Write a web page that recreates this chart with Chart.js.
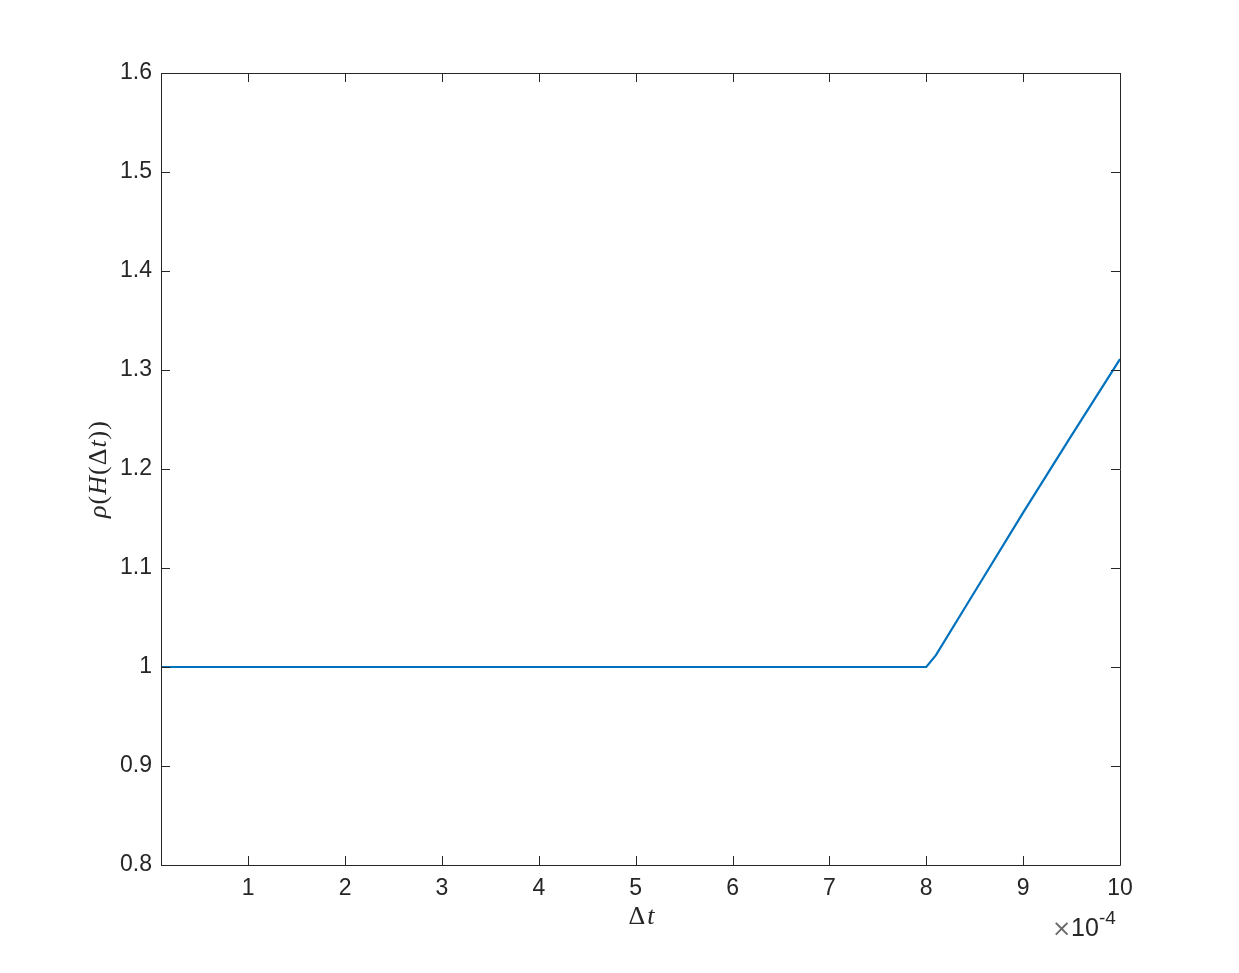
<!DOCTYPE html>
<html>
<head>
<meta charset="utf-8">
<script src="https://cdn.jsdelivr.net/npm/chart.js@4/dist/chart.umd.min.js"></script>
<style>
html,body{margin:0;padding:0;background:#fff;}
#wrap{width:1239px;height:973px;position:relative;}
</style>
</head>
<body>
<div id="wrap"><canvas id="c" width="1239" height="973"></canvas></div>
<script>
// Δt in units of 1e-4
const dtValues  = [0.1, 1, 2, 3, 4, 5, 6, 7, 8.0, 8.1, 8.5, 9.0, 9.5, 10.0];
const rhoValues = [1.0, 1.0, 1.0, 1.0, 1.0, 1.0, 1.0, 1.0, 1.0, 1.012, 1.076, 1.156, 1.234, 1.311];
const xTicks = [1, 2, 3, 4, 5, 6, 7, 8, 9, 10];
const yTicks = [0.8, 0.9, 1.0, 1.1, 1.2, 1.3, 1.4, 1.5, 1.6];
const xExponent = "-4";

const AX = '#262626';
const TICKFONT = '"Liberation Sans", Arial, sans-serif';
const MATHFONT = '"Liberation Serif", "DejaVu Serif", serif';
const MS = 26;

const boxPlugin = {
  id: 'boxTicks',
  afterDraw(chart) {
    const {ctx, chartArea: a, scales: {x, y}} = chart;
    ctx.save();
    ctx.strokeStyle = AX;
    ctx.lineWidth = 1;
    ctx.beginPath();
    ctx.rect(a.left + 0.5, a.top + 0.5, a.right - a.left, a.bottom - a.top);
    ctx.stroke();
    const L = 9;
    ctx.beginPath();
    xTicks.forEach(v => {
      const px = Math.round(x.getPixelForValue(v)) + 0.5;
      ctx.moveTo(px, a.bottom); ctx.lineTo(px, a.bottom - L);
      ctx.moveTo(px, a.top); ctx.lineTo(px, a.top + L);
    });
    yTicks.forEach(v => {
      const py = Math.round(y.getPixelForValue(v)) + 0.5;
      ctx.moveTo(a.left, py); ctx.lineTo(a.left + L, py);
      ctx.moveTo(a.right, py); ctx.lineTo(a.right - L, py);
    });
    ctx.stroke();

    ctx.fillStyle = AX;
    ctx.textBaseline = 'alphabetic';
    ctx.textAlign = 'left';
    // x-axis title: Δt
    const cx = (a.left + a.right) / 2 + 1;
    ctx.font = MS + 'px ' + MATHFONT;
    const wD = ctx.measureText('Δ').width;
    ctx.font = 'italic ' + MS + 'px ' + MATHFONT;
    const wT = ctx.measureText('t').width;
    const sx = cx - (wD + wT + 2) / 2;
    ctx.font = MS + 'px ' + MATHFONT;
    ctx.fillText('Δ', sx, 924);
    ctx.font = 'italic ' + MS + 'px ' + MATHFONT;
    ctx.fillText('t', sx + wD + 2, 924);

    // y-axis title: ρ(H(Δt)) rotated
    const parts = [
      ['ρ', true], ['(', false], ['H', true], ['(', false], ['Δ', false], ['t', true], [')', false], [')', false]
    ];
    let total = 0;
    const widths = parts.map(([s, it]) => {
      ctx.font = (it ? 'italic ' : '') + MS + 'px ' + MATHFONT;
      const w = ctx.measureText(s).width + 1; total += w; return w;
    });
    ctx.translate(106, (a.top + a.bottom) / 2);
    ctx.rotate(-Math.PI / 2);
    let px = -total / 2;
    parts.forEach(([s, it], i) => {
      ctx.font = (it ? 'italic ' : '') + MS + 'px ' + MATHFONT;
      ctx.fillText(s, px, 0);
      px += widths[i];
    });
    ctx.setTransform(1, 0, 0, 1, 0, 0);

    // exponent label ×10^-4
    ctx.font = '23px "DejaVu Sans", sans-serif';
    ctx.fillStyle = '#6a6a6a';
    ctx.fillText('×', 1052, 936);
    ctx.fillStyle = AX;
    ctx.font = '25px ' + TICKFONT;
    ctx.fillText('10', 1071, 936);
    ctx.font = '19px ' + TICKFONT;
    ctx.fillText(xExponent, 1099, 924);
    ctx.restore();
  }
};

new Chart(document.getElementById('c'), {
  type: 'line',
  data: {
    datasets: [{
      data: dtValues.map((v, i) => ({x: v, y: rhoValues[i]})),
      borderColor: '#0072BD',
      borderWidth: 2.2,
      pointRadius: 0,
      tension: 0,
      fill: false
    }]
  },
  options: {
    responsive: false,
    animation: false,
    layout: {padding: {left: 0, top: 73, right: 119, bottom: 0}},
    plugins: {legend: {display: false}, tooltip: {enabled: false}},
    scales: {
      x: {
        type: 'linear', min: 0.1, max: 10,
        afterBuildTicks(s) { s.ticks = xTicks.map(v => ({value: v})); },
        afterFit(s) { s.height = 108; },
        grid: {display: false, drawTicks: false},
        border: {display: false},
        ticks: {color: AX, font: {family: TICKFONT, size: 23}, padding: 10, maxRotation: 0, autoSkip: false,
          callback: v => String(v)}
      },
      y: {
        type: 'linear', min: 0.8, max: 1.6,
        afterBuildTicks(s) { s.ticks = yTicks.map(v => ({value: v})); },
        afterFit(s) { s.width = 161; },
        grid: {display: false, drawTicks: false},
        border: {display: false},
        ticks: {color: AX, font: {family: TICKFONT, size: 23}, padding: 9, autoSkip: false,
          callback: v => { const r = Math.round(v * 10) / 10; return String(r); }}
      }
    }
  },
  plugins: [boxPlugin]
});
</script>
</body>
</html>
